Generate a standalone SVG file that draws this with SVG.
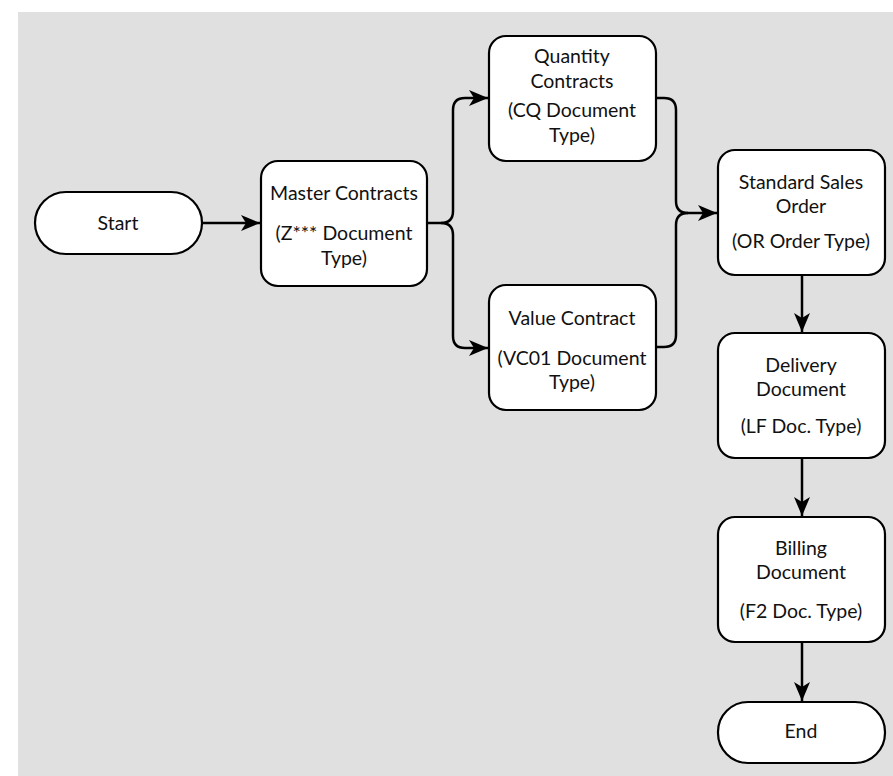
<svg xmlns="http://www.w3.org/2000/svg" width="893" height="776" viewBox="0 0 893 776">
<style>
.n{fill:#fff;stroke:#000;stroke-width:2.2}
.c{fill:none;stroke:#000;stroke-width:2.5}
text{font-family:Lato,"Open Sans",sans-serif;font-size:19.5px;fill:#111;text-anchor:middle}
</style>
<defs>
<marker id="a" markerUnits="userSpaceOnUse" markerWidth="22" markerHeight="18" refX="19" refY="8" orient="auto">
<path d="M0,0 L19,8 L0,16 L5,8 Z" fill="#000"/>
</marker>
</defs>
<rect x="18" y="12" width="875" height="764" fill="#e0e0e0"/>
<g id="connectors">
<path class="c" d="M202,223 H260" marker-end="url(#a)"/>
<path class="c" d="M427,223 H441 Q453,223 453,211 V110 Q453,98 465,98 H488" marker-end="url(#a)"/>
<path class="c" d="M441,223 Q453,223 453,235 V336 Q453,348 465,348 H488" marker-end="url(#a)"/>
<path class="c" d="M656,98 H664 Q676,98 676,110 V201 Q676,213 688,213 H717" marker-end="url(#a)"/>
<path class="c" d="M656,347 H664 Q676,347 676,335 V225 Q676,213 688,213"/>
<path class="c" d="M802,275 V332" marker-end="url(#a)"/>
<path class="c" d="M802,458 V516" marker-end="url(#a)"/>
<path class="c" d="M802,642 V701" marker-end="url(#a)"/>
</g>
<g id="start"><rect class="n" x="35" y="192" width="167" height="62" rx="31"/><text x="118" y="230">Start</text></g>
<g id="master"><rect class="n" x="261" y="161" width="166" height="125" rx="17"/>
<text x="344" y="200">Master Contracts</text><text x="344" y="240">(Z*** Document</text><text x="344" y="265">Type)</text></g>
<g id="quantity"><rect class="n" x="489" y="36" width="167" height="125" rx="17"/>
<text x="572" y="63">Quantity</text><text x="572" y="88">Contracts</text><text x="572" y="117">(CQ Document</text><text x="572" y="142">Type)</text></g>
<g id="value"><rect class="n" x="489" y="285" width="167" height="125" rx="17"/>
<text x="572" y="325">Value Contract</text><text x="572" y="365">(VC01 Document</text><text x="572" y="389">Type)</text></g>
<g id="standard"><rect class="n" x="718" y="150" width="167" height="125" rx="17"/>
<text x="801" y="189">Standard Sales</text><text x="801" y="213">Order</text><text x="801" y="248">(OR Order Type)</text></g>
<g id="delivery"><rect class="n" x="718" y="333" width="167" height="125" rx="17"/>
<text x="801" y="372">Delivery</text><text x="801" y="396">Document</text><text x="801" y="433">(LF Doc. Type)</text></g>
<g id="billing"><rect class="n" x="718" y="517" width="167" height="125" rx="17"/>
<text x="801" y="555">Billing</text><text x="801" y="579">Document</text><text x="801" y="618">(F2 Doc. Type)</text></g>
<g id="end"><rect class="n" x="718" y="702" width="167" height="61" rx="30"/><text x="801" y="738">End</text></g>
</svg>
